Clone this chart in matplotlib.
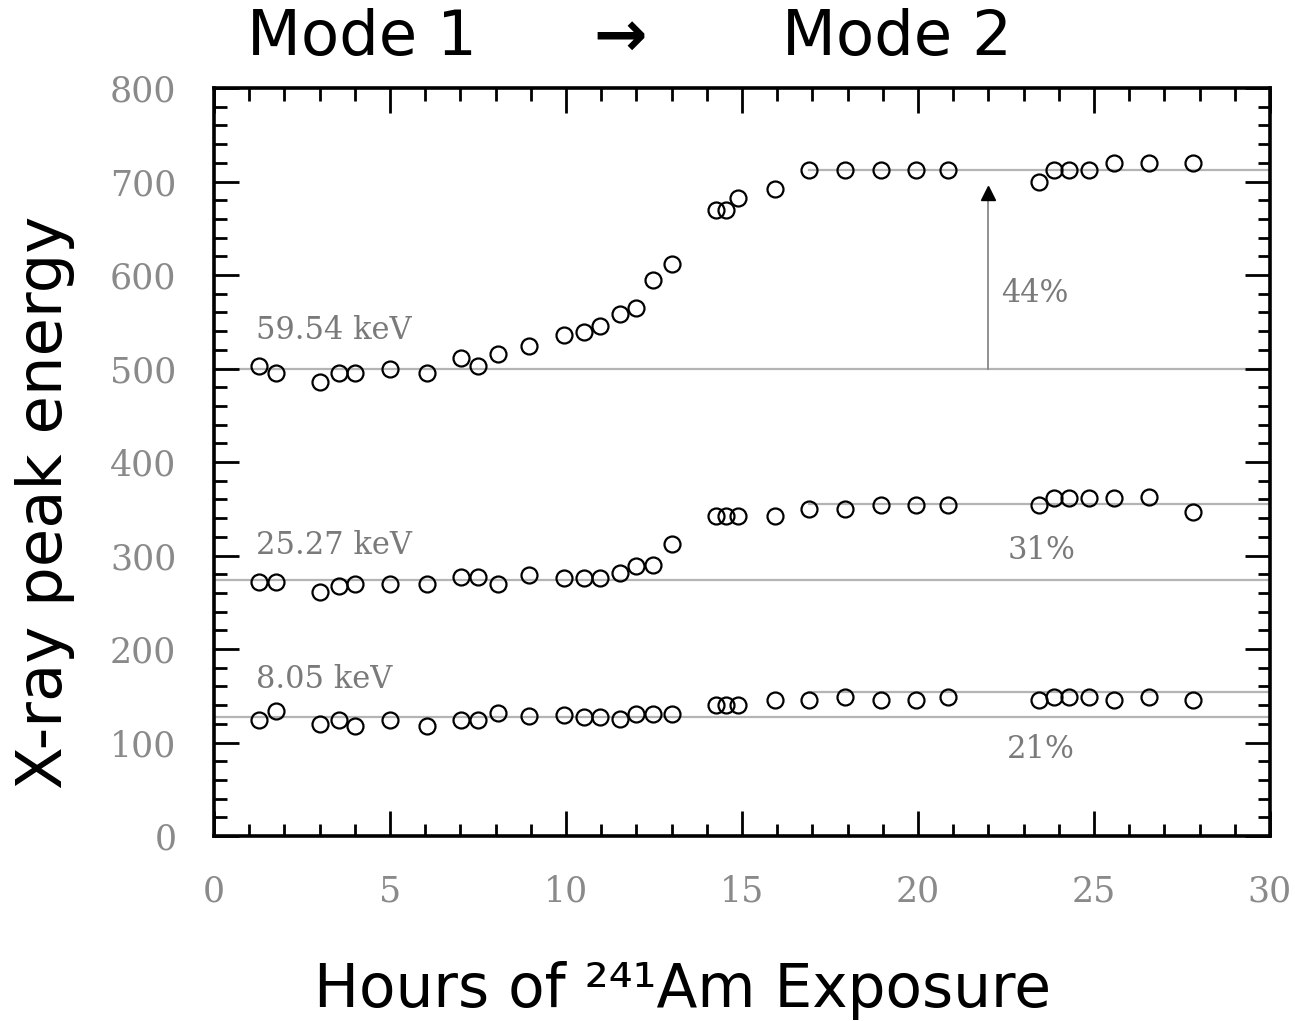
import matplotlib
matplotlib.use("Agg")
import matplotlib.pyplot as plt
from matplotlib.ticker import MultipleLocator

# ---- data ----
hours = [1.29, 1.75, 3.0, 3.54, 4.01, 5.0, 6.04, 7.03, 7.5, 8.07, 8.94, 9.95,
         10.52, 10.97, 11.53, 11.98, 12.48, 13.02, 14.26, 14.55, 14.88, 15.93,
         16.9, 17.92, 18.95, 19.93, 20.86, 23.44, 23.86, 24.29, 24.87, 25.57,
         26.57, 27.8]
peak_5954 = [503, 495, 486, 495, 495, 499, 495, 511, 503, 516, 524, 536,
             539, 545, 558, 565, 595, 612, 669, 669, 682, 692,
             712, 712, 712, 712, 712, 700, 712, 712, 712, 720,
             720, 720]
peak_2527 = [272, 272, 261, 267, 270, 270, 270, 277, 277, 270, 279, 276,
             276, 276, 281, 289, 290, 312, 342, 342, 342, 342,
             350, 350, 354, 354, 354, 354, 362, 362, 362, 362,
             363, 346]
peak_805 = [124, 134, 120, 124, 118, 124, 118, 124, 124, 132, 128, 129,
            127, 127, 125, 130, 130, 131, 140, 140, 140, 145,
            145, 149, 145, 145, 149, 145, 149, 149, 149, 145,
            149, 145]

series_labels = ["59.54 keV", "25.27 keV", "8.05 keV"]
label_y = [541, 311, 167]
base_levels = [500, 274, 127]
final_levels = [712, 355, 154]
final_start = 16.9
pct_labels = ["44%", "31%", "21%"]
pct_y = [580, 305, 92]
arrow_x = 22.0

xticks = [0, 5, 10, 15, 20, 25, 30]
yticks = [0, 100, 200, 300, 400, 500, 600, 700, 800]

# ---- figure ----
W, H = 1295, 1021
fig = plt.figure(figsize=(W / 100, H / 100), dpi=100)
ax = fig.add_axes([214 / W, 1 - 836 / H, (1270 - 214) / W, (836 - 88) / H])

ax.set_xlim(0, 30)
ax.set_ylim(0, 800)

line_col = "#b4b4b4"
for b in base_levels:
    ax.plot([0, 30], [b, b], color=line_col, lw=1.6, zorder=1)
for f in final_levels:
    ax.plot([final_start, 30], [f, f], color=line_col, lw=1.6, zorder=1)

for ys in (peak_5954, peak_2527, peak_805):
    ax.plot(hours, ys, linestyle="none", marker="o", ms=11.5, mfc="none",
            mec="black", mew=1.6, zorder=3)

# arrow 44%
ax.plot([arrow_x, arrow_x], [base_levels[0], 690], color="#888888", lw=1.3, zorder=2)
ax.plot([arrow_x], [688], marker="^", ms=10, color="black", zorder=4)

serif = "DejaVu Serif"
txt_col = "#7a7a7a"
for lab, ly in zip(series_labels, label_y):
    ax.text(1.2, ly, lab, fontsize=22, family=serif, color=txt_col,
            ha="left", va="center")
ax.text(22.35, pct_y[0], pct_labels[0], fontsize=22, family=serif,
        color=txt_col, ha="left", va="center")
for lab, py in zip(pct_labels[1:], pct_y[1:]):
    ax.text(23.5, py, lab, fontsize=22, family=serif, color=txt_col,
            ha="center", va="center")

# ticks
ax.set_xticks(xticks)
ax.set_yticks(yticks)
ax.xaxis.set_minor_locator(MultipleLocator(1))
ax.yaxis.set_minor_locator(MultipleLocator(20))
ax.tick_params(which="both", direction="in", top=True, right=True,
               color="black")
ax.tick_params(which="major", length=18, width=2.0)
ax.tick_params(which="minor", length=9, width=2.0)
ax.tick_params(axis="y", which="major", pad=27)
ax.tick_params(axis="x", which="major", pad=28)
for lbl in ax.get_xticklabels() + ax.get_yticklabels():
    lbl.set_fontfamily(serif)
    lbl.set_fontsize(25)
    lbl.set_color("#8a8a8a")
for s in ax.spines.values():
    s.set_linewidth(2.6)

gfont = "DejaVu Sans"
fig.text(45 / W, 1 - 502 / H, "X-ray peak energy", rotation=90,
         fontsize=45, family=gfont, ha="center", va="center")
fig.text(682 / W, 1 - 990 / H, "Hours of \u00b2\u2074\u00b9Am Exposure",
         fontsize=43, family=gfont, ha="center", va="center")
fig.text(362 / W, 1 - 38 / H, "Mode 1", fontsize=45, family=gfont,
         ha="center", va="center")
fig.text(620 / W, 1 - 38 / H, "\u2192", fontsize=46, family=gfont,
         ha="center", va="center", fontweight="bold")
fig.text(897 / W, 1 - 38 / H, "Mode 2", fontsize=45, family=gfont,
         ha="center", va="center")

fig.savefig("out.png", dpi=100)
